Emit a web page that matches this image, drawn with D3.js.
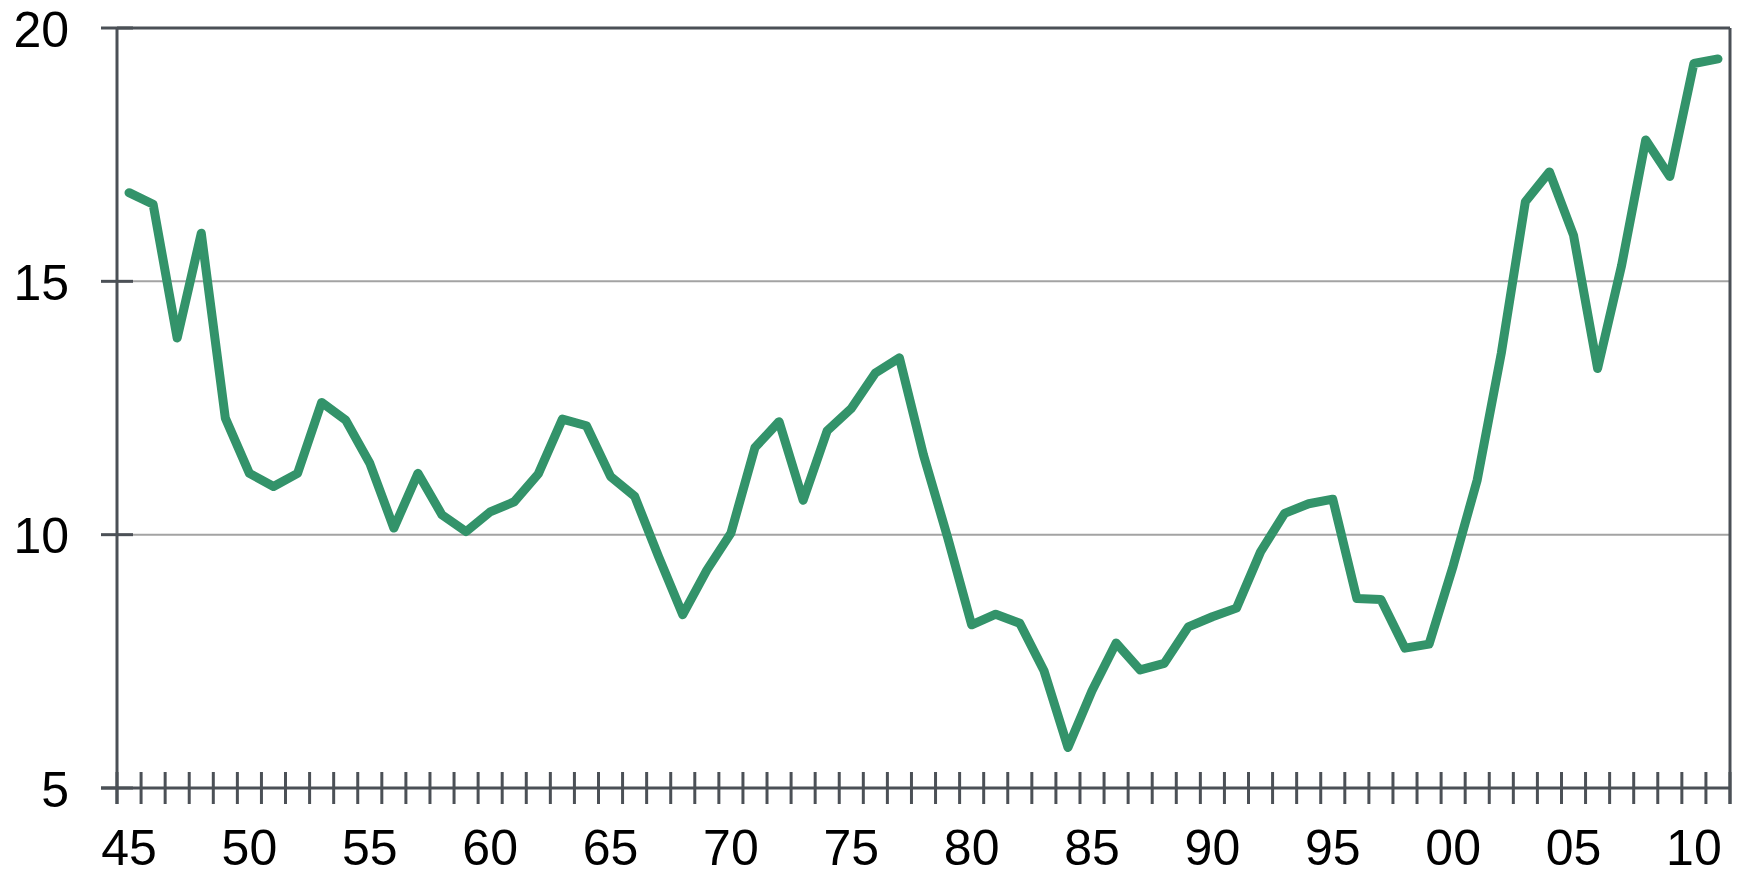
<!DOCTYPE html>
<html>
<head>
<meta charset="utf-8">
<script src="https://cdn.jsdelivr.net/npm/d3@7"></script>
<style>
  html, body { margin: 0; padding: 0; background: #fff; }
  svg { display: block; }
  text { font-family: "Liberation Sans", Arial, sans-serif; fill: #000; }
</style>
</head>
<body>
<svg id="chart" width="1740" height="876"></svg>
<script>
const years = d3.range(1945, 2012);
const values = [
  16.75, 16.52, 13.88, 15.95, 12.30, 11.21, 10.95, 11.21, 12.61, 12.26,
  11.41, 10.13, 11.21, 10.39, 10.06, 10.45, 10.65, 11.20, 12.28, 12.15,
  11.15, 10.76, 9.56, 8.42, 9.30, 10.03, 11.72, 12.23, 10.68, 12.05,
  12.49, 13.19, 13.49, 11.57, 9.95, 8.22, 8.43, 8.25, 7.32, 5.80,
  6.92, 7.86, 7.33, 7.46, 8.18, 8.38, 8.55, 9.66, 10.42, 10.61,
  10.70, 8.74, 8.72, 7.76, 7.84, 9.38, 11.08, 13.58, 16.57, 17.16,
  15.91, 13.28, 15.32, 17.79, 17.07, 19.30, 19.39
];
const yTicks = [5, 10, 15, 20];
const xLabelYears = [1945, 1950, 1955, 1960, 1965, 1970, 1975, 1980, 1985, 1990, 1995, 2000, 2005, 2010];

(function () {
const svg = d3.select("#chart");
const pL = 117, pR = 1730, pT = 28, pB = 788;
const axisColor = "#4b5056";
const gridColor = "#a3a3a3";

const x = d3.scaleBand().domain(years).range([pL, pR]).padding(0);
const y = d3.scaleLinear().domain([5, 20]).range([pB, pT]);

// gridlines (interior)
svg.append("g").selectAll("line").data([10, 15]).join("line")
  .attr("x1", pL).attr("x2", pR)
  .attr("y1", d => y(d)).attr("y2", d => y(d))
  .attr("stroke", gridColor).attr("stroke-width", 2);

// frame: top & right
svg.append("line").attr("x1", pL).attr("x2", pR).attr("y1", y(20)).attr("y2", y(20))
  .attr("stroke", axisColor).attr("stroke-width", 3);
svg.append("line").attr("x1", pR).attr("x2", pR).attr("y1", y(20)).attr("y2", pB + 16)
  .attr("stroke", axisColor).attr("stroke-width", 3);

// y-axis
const yAxis = d3.axisLeft(y).tickValues(yTicks).tickSize(0).tickPadding(0).tickFormat(d3.format("d"));
const gy = svg.append("g").attr("transform", `translate(${pL},0)`).call(yAxis);
gy.select(".domain").remove();
gy.selectAll("text").attr("x", 69 - pL).attr("dy", "0.36em")
  .attr("text-anchor", "end").style("font-size", "50px").style("font-family", "'Liberation Sans', Arial, sans-serif").attr("fill", "#000");
svg.append("g").selectAll("line").data(yTicks).join("line")
  .attr("x1", pL - 16).attr("x2", pL + 16)
  .attr("y1", d => y(d)).attr("y2", d => y(d))
  .attr("stroke", axisColor).attr("stroke-width", 3);
svg.append("line").attr("x1", pL).attr("x2", pL).attr("y1", y(20)).attr("y2", pB + 16)
  .attr("stroke", axisColor).attr("stroke-width", 3);

// x-axis
svg.append("line").attr("x1", pL - 16).attr("x2", pR).attr("y1", pB).attr("y2", pB)
  .attr("stroke", axisColor).attr("stroke-width", 3);
const boundaries = years.map(d => x(d)).concat([x.range()[1]]);
svg.append("g").selectAll("line").data(boundaries).join("line")
  .attr("x1", d => d).attr("x2", d => d)
  .attr("y1", pB - 16).attr("y2", pB + 16)
  .attr("stroke", axisColor).attr("stroke-width", 3);

const xAxis = d3.axisBottom(x).tickValues(xLabelYears).tickSize(0).tickPadding(0)
  .tickFormat(d => String(d).slice(2));
const gx = svg.append("g").attr("transform", `translate(0,${pB})`).call(xAxis);
gx.select(".domain").remove();
gx.selectAll("text").attr("y", 77).attr("dy", 0)
  .style("font-size", "50px").style("font-family", "'Liberation Sans', Arial, sans-serif").attr("fill", "#000");

// line
const line = d3.line()
  .x((d, i) => x(years[i]) + x.bandwidth() / 2)
  .y(d => y(d));
svg.append("path").datum(values)
  .attr("d", line)
  .attr("fill", "none")
  .attr("stroke", "#33936a")
  .attr("stroke-width", 9)
  .attr("stroke-linejoin", "round")
  .attr("stroke-linecap", "round");
})();
</script>
</body>
</html>
